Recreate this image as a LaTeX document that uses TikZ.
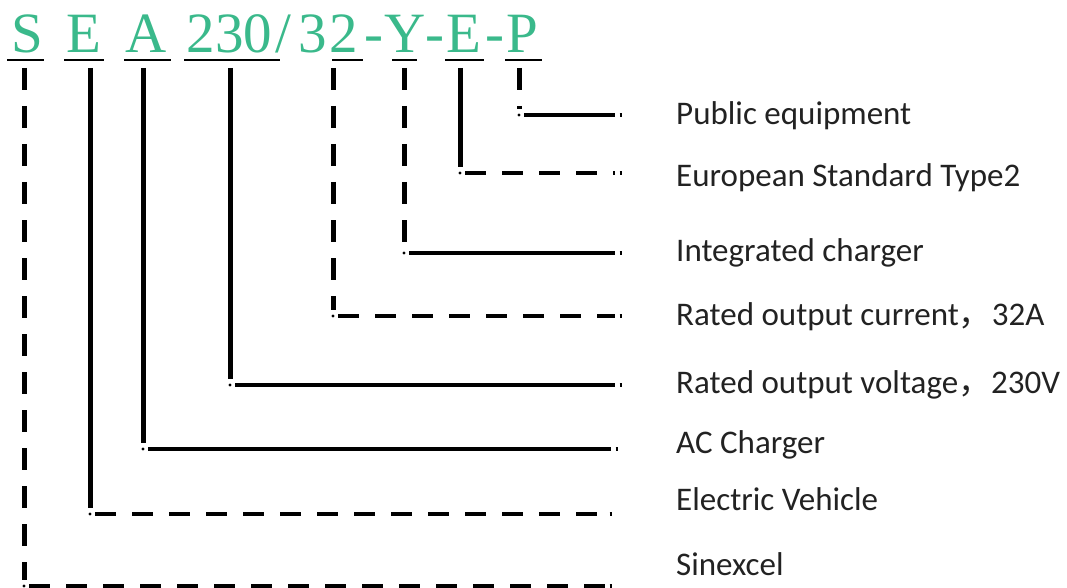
\documentclass[tikz,border=0pt]{standalone}
\usepackage{fontspec}
\setmainfont{Liberation Serif}
\newfontfamily\labfont{Carlito}
\newfontfamily\cjkfont{Noto Sans CJK SC}
\definecolor{codegreen}{RGB}{58,185,139}
\definecolor{labgray}{RGB}{34,34,34}
\newcommand\mkconn[6]{%
  \coordinate (t#1) at (#2,68);
  \coordinate (c#1) at (#2,#3);
  \coordinate (e#1) at (#4,#3);
  \draw[#5] (t#1) -- ([yshift=6pt]c#1);
  \fill (c#1) circle (1.6pt);
  \draw[#6] ([xshift=5pt]c#1) -- ([xshift=-7pt]e#1);
  \draw[hsolid] ([xshift=-2.5pt]e#1) -- (e#1);
}
\begin{document}
\begin{tikzpicture}[x=1pt,y=-1pt,
  code/.style={font=\fontsize{57}{60}\selectfont, text=codegreen, inner sep=0pt, anchor=base},
  lab/.style={font=\labfont\fontsize{33}{38}\selectfont, text=labgray, inner sep=0pt, anchor=base west},
  uline/.style={line width=2.5pt},
  vsolid/.style={line width=5pt},
  vdash/.style={line width=5pt, dash pattern=on 22pt off 16pt},
  hsolid/.style={line width=4.5pt},
  hdash/.style={line width=4.5pt, dash pattern=on 21pt off 16pt}]
\useasboundingbox (0,0) rectangle (1067,588);
% code letters
\node[code] (kS)  at (27,53)    {S};
\node[code] (kE1) at (84,53)    {E};
\node[code] (kA)  at (146.5,53) {A};
\node[code] (kV)  at (229.5,53) {230};
\node[code] (ksl) at (283,53)   {/};
\node[code] (k3)  at (313,53)   {3};
\node[code] (kN2) at (344,53)   {2};
\node[code] (kh1) at (373.5,53) {-};
\node[code] (kY)  at (405,53)   {Y};
\node[code] (kh2) at (434.5,53) {-};
\node[code] (kE2) at (464,53)   {E};
\node[code] (kh3) at (494.5,53) {-};
\node[code] (kP)  at (522,53)   {P};
% underlines
\draw[uline] (7,60) -- (44,60);
\draw[uline] (64,60) -- (104,60);
\draw[uline] (124,60) -- (171,60);
\draw[uline] (184,60) -- (280,60);
\draw[uline] (332,60) -- (363,60);
\draw[uline] (392,60) -- (417,60);
\draw[uline] (445,60) -- (484,60);
\draw[uline] (505,60) -- (542,60);
% labels
\node[lab] (lP)  at (676,125) {Public equipment};
\node[lab] (lE2) at (676,186) {European Standard Type2};
\node[lab] (lY)  at (676,261) {Integrated charger};
\node[lab] (lN2) at (676,325) {Rated output current{\cjkfont ，}32A};
\node[lab] (lV)  at (676,393) {Rated output voltage{\cjkfont ，}230V};
\node[lab] (lA)  at (676,453) {AC Charger};
\node[lab] (lE1) at (676,510) {Electric Vehicle};
\node[lab] (lS)  at (676,575) {Sinexcel};
% connectors
\mkconn{P}{519}{115}{622}{vdash}{hsolid}
\mkconn{E2}{460}{173}{622}{vsolid}{hdash}
\mkconn{Y}{404}{253}{622}{vdash}{hsolid}
\mkconn{N2}{333}{316}{622}{vdash}{hdash}
\mkconn{V}{230}{385}{622}{vsolid}{hsolid}
\mkconn{A}{143}{449}{618}{vsolid}{hsolid}
\mkconn{E1}{90}{514}{612}{vsolid}{hdash}
\mkconn{S}{24}{586}{612}{vdash}{hdash}
\end{tikzpicture}
\end{document}
